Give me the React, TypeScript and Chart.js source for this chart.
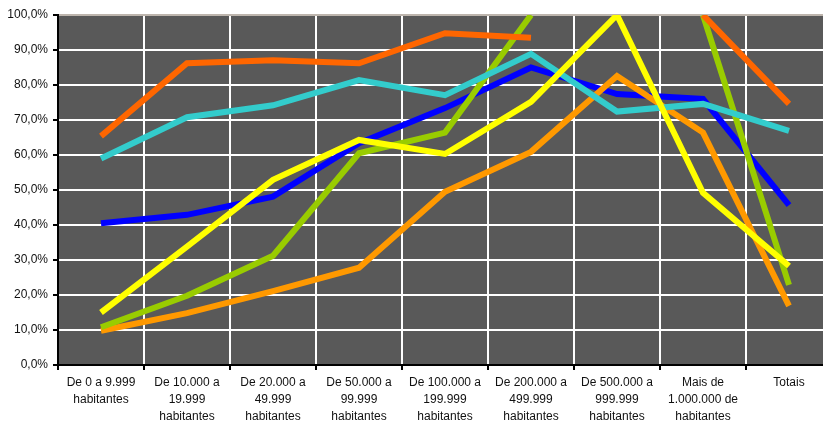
import React, { useEffect, useRef } from "react";
import { Chart, registerables } from "chart.js";

Chart.register(...registerables);

const categories: string[][] = [
  ["De 0 a 9.999", "habitantes"],
  ["De 10.000 a", "19.999", "habitantes"],
  ["De 20.000 a", "49.999", "habitantes"],
  ["De 50.000 a", "99.999", "habitantes"],
  ["De 100.000 a", "199.999", "habitantes"],
  ["De 200.000 a", "499.999", "habitantes"],
  ["De 500.000 a", "999.999", "habitantes"],
  ["Mais de", "1.000.000 de", "habitantes"],
  ["Totais"],
];

const blueSeries = [40.5, 42.9, 48.1, 63.4, 73.4, 85.0, 77.4, 76.0, 45.7];
const redOrangeSeries = [65.4, 86.2, 87.1, 86.2, 94.8, 93.5, null, 100, 74.6];
const cyanSeries = [59.0, 70.8, 74.2, 81.4, 77.1, 88.9, 72.4, 74.6, 66.9];
const greenSeries = [10.8, 19.8, 31.2, 60.5, 66.4, 100, null, 100, 22.9];
const yellowSeries = [15.0, 33.8, 52.9, 64.3, 60.3, 75.2, 100, 49.2, 28.3];
const orangeSeries = [9.8, 14.8, 21.1, 27.8, 49.5, 60.9, 82.6, 66.4, 16.9];

const plotBg = {
  id: "plotBg",
  beforeDraw(chart: any) {
    const { ctx, chartArea } = chart;
    ctx.save();
    ctx.fillStyle = "#595959";
    ctx.fillRect(chartArea.left, chartArea.top, chartArea.right - chartArea.left, chartArea.bottom - chartArea.top);
    ctx.restore();
  },
};

export default function App() {
  const ref = useRef<HTMLCanvasElement | null>(null);
  useEffect(() => {
    if (!ref.current) return;
    const mk = (data: (number | null)[], color: string) => ({
      data,
      borderColor: color,
      backgroundColor: color,
      borderWidth: 6,
      pointRadius: 0,
      pointHoverRadius: 0,
      tension: 0,
      spanGaps: false,
      fill: false,
    });
    const chart = new Chart(ref.current, {
      type: "line",
      data: {
        labels: categories as any,
        datasets: [
          mk(yellowSeries, "#FFFF00"),
          mk(redOrangeSeries, "#FF6600"),
          mk(cyanSeries, "#33CCCC"),
          mk(greenSeries, "#99CC00"),
          mk(orangeSeries, "#FF9900"),
          mk(blueSeries, "#0000FF"),
        ],
      },
      options: {
        animation: false,
        responsive: false,
        layout: { padding: { top: 15, left: 0, right: 0, bottom: 0 } },
        plugins: { legend: { display: false }, tooltip: { enabled: false } },
        scales: {
          x: {
            offset: true,
            grid: {
              offset: true,
              color: "#FFFFFF",
              lineWidth: 2,
              tickColor: "#000000",
              tickLength: 5,
            },
            border: { color: "#000000", width: 2 },
            ticks: {
              autoSkip: false,
              maxRotation: 0,
              minRotation: 0,
              padding: 4,
              color: "#111111",
              font: { family: "'Liberation Sans', Arial, sans-serif", size: 12, lineHeight: 1.42 },
            },
            afterFit: (s: any) => {
              s.height = 57;
            },
          },
          y: {
            min: 0,
            max: 100,
            grid: {
              color: (c: any) => (c.tick && c.tick.value === 100 ? "#BDB5AD" : "#FFFFFF"),
              lineWidth: 2,
              tickColor: "#000000",
              tickLength: 5,
            },
            border: { color: "#000000", width: 2 },
            ticks: {
              stepSize: 10,
              padding: 5,
              color: "#111111",
              font: { family: "'Liberation Sans', Arial, sans-serif", size: 12 },
              callback: (v: any) => Number(v).toFixed(1).replace(".", ",") + "%",
            },
            afterFit: (s: any) => {
              s.width = 58;
            },
          },
        },
      },
      plugins: [plotBg],
    });
    return () => chart.destroy();
  }, []);
  return (
    <div style={{ position: "fixed", left: 0, top: 0, width: 823, height: 422, overflow: "hidden", background: "#fff" }}>
      <canvas ref={ref} width={832} height={422} style={{ width: 832, height: 422, display: "block" }} />
    </div>
  );
}
